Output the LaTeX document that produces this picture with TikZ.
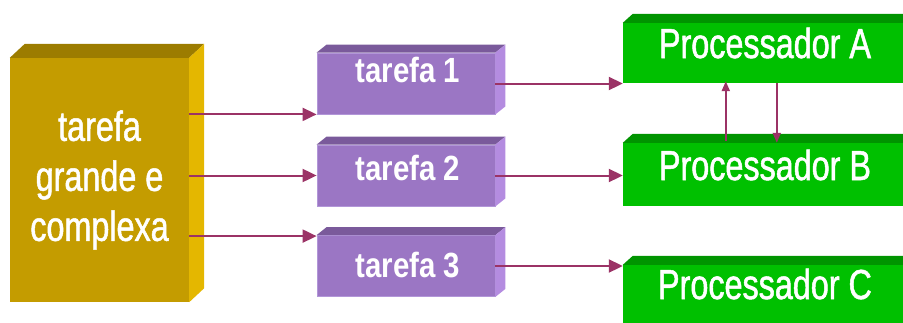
\documentclass[tikz,border=0pt]{standalone}
\usepackage{fontspec}
\usepackage{tikz}
\usetikzlibrary{arrows.meta,positioning,calc}
\newfontfamily\narrowsans[FakeStretch=0.77,FakeBold=1.2]{Liberation Sans}
\newfontfamily\narrowbold[FakeStretch=0.84]{Liberation Sans Bold}
\definecolor{goldfront}{HTML}{C49C00}
\definecolor{goldtop}{HTML}{9C7C00}
\definecolor{goldside}{HTML}{E4B700}
\definecolor{lilafront}{HTML}{9B76C4}
\definecolor{lilatop}{HTML}{7A5A9B}
\definecolor{lilaside}{HTML}{B48CE0}
\definecolor{lilaedge}{HTML}{B296D8}
\definecolor{procfront}{HTML}{00C000}
\definecolor{proctop}{HTML}{009400}
\definecolor{linkcol}{HTML}{9B3366}
% top and right faces of a box drawn from its front node
\newcommand{\boxfaces}[5]{%
  \fill[#4] (#1.north west) -- ([shift={(#2,-#3)}]#1.north west)
     -- ([shift={(#2,-#3)}]#1.north east) -- (#1.north east) -- cycle;
  \fill[#5] (#1.north east) -- ([shift={(#2,-#3)}]#1.north east)
     -- ([shift={(#2,-#3)}]#1.south east) -- (#1.south east) -- cycle;}
\tikzset{
  bigbox/.style={fill=goldfront, inner sep=0pt, minimum width=179pt, minimum height=244pt,
    text=white, align=center, font=\narrowsans\fontsize{42}{50}\selectfont},
  taskbox/.style={fill=lilafront, draw=lilaedge, line width=0.8pt, inner sep=0pt,
    minimum width=178pt, minimum height=61pt},
  procbox/.style={fill=procfront, inner sep=0pt, minimum width=300pt, minimum height=61pt},
  tasktext/.style={text=white, inner sep=0pt, font=\narrowbold\fontsize{35}{40}\selectfont},
  proctext/.style={text=white, inner sep=0pt, font=\narrowsans\fontsize{42}{48}\selectfont},
  link/.style={draw=linkcol, line width=2pt, -{Triangle[length=14pt,width=13pt]}},
  swap/.style={draw=linkcol, line width=2pt, -{Triangle[length=10pt,width=8pt]}}
}
\begin{document}
\begin{tikzpicture}[x=1pt, y=-1pt]
\useasboundingbox (0,0) rectangle (903,322);
% ================= big task =================
\node[bigbox] (big) at (99.5,180) {tarefa\\grande e\\complexa};
\boxfaces{big}{15}{14}{goldtop}{goldside}
% ================= sub tasks =================
\node[taskbox] (t1) at (406,83.5) {};
\node[taskbox] (t2) at (406,175.5) {};
\node[taskbox] (t3) at (406,266) {};
\foreach \t in {t1,t2,t3}{\boxfaces{\t}{10}{8}{lilatop}{lilaside}}
\node[tasktext] (t1txt) at (408,70) {tarefa 1};
\node[tasktext] (t2txt) at (408,168) {tarefa 2};
\node[tasktext] (t3txt) at (408,265) {tarefa 3};
% ================= processors =================
\node[procbox, minimum height=60pt] (pa) at (773,53) {};
\node[procbox, minimum height=63pt] (pb) at (773,174.5) {};
\node[procbox, minimum height=70pt] (pc) at (773,300) {};
\foreach \p in {pa,pb,pc}{\boxfaces{\p}{10}{9}{proctop}{proctop}}
\node[proctext] (patxt) at (765,43) {Processador A};
\node[proctext] (pbtxt) at (765,165) {Processador B};
\node[proctext] (pctxt) at (765,284) {Processador C};
% ================= links =================
\draw[link] (big.east |- t1.south west) -- (t1.south west);
\draw[link] (big.east |- t2.west) -- (t2.west);
\draw[link] ([yshift=-1pt]big.east |- t3.north west) -- ([yshift=-1pt]t3.north west);
\draw[link] (t1.east) -- (t1.east -| pa.south west);
\draw[link] (t2.east) -- (t2.east -| pb.west);
\draw[link] (t3.east) -- (t3.east -| pc.west);
\draw[swap] ([shift={(103,-2)}]pb.north west) -- ([shift={(103,-2)}]pa.south west);
\draw[swap] ([shift={(154,0)}]pa.south west) -- ([shift={(154,0)}]pb.north west);
\end{tikzpicture}
\end{document}
